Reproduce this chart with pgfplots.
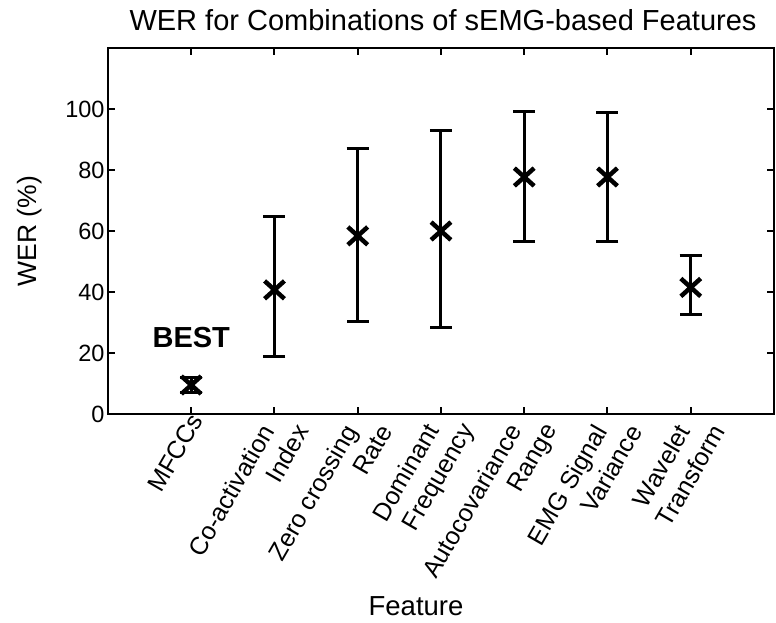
\documentclass[border=0pt]{standalone}
\usepackage{pgfplots}
\pgfplotsset{compat=1.18}
\usepackage{fontspec}
\setmainfont{Liberation Sans}
\newcommand{\gap}{\rule{18pt}{0pt}}
\begin{document}
\begin{tikzpicture}
\begin{axis}[
  at={(0,0)}, anchor=south west,
  scale only axis, width=666pt, height=366pt,
  xmin=-1, xmax=7, ymin=0, ymax=120,
  ytick={0,20,40,60,80,100},
  xtick={0,1,2,3,4,5,6},
  xticklabels={{\raisebox{10pt}[\height][\depth]{MFCCs}\rule{2pt}{0pt}}, Co-activation\gap\\Index, Zero crossing\gap\\Rate, Dominant\gap\\Frequency, Autocovariance\gap\\Range, EMG Signal\gap\\Variance, Wavelet\gap\\Transform},
  xticklabel style={xshift=15pt, yshift=-5pt, rotate=60, anchor=east, align=right, font=\fontsize{25}{30}\selectfont, inner sep=0pt},
  yticklabel style={font=\fontsize{23.5}{26}\selectfont},
  /pgf/number format/assume math mode=true,
  axis line style={line width=2pt},
  tick style={line width=2pt, black},
  major tick length=7pt,
  tick align=inside,
  title={WER for Combinations of sEMG-based Features},
  title style={font=\fontsize{29}{32}\selectfont, at={(axis description cs:0.503,1.06)}, anchor=center},
  ylabel={WER (\%)}, ylabel style={font=\fontsize{26.5}{28}\selectfont, at={(axis description cs:-0.117,0.5)}, anchor=center},
  xlabel={Feature}, xlabel style={font=\fontsize{27.5}{30}\selectfont, at={(axis description cs:0.4625,-0.525)}, anchor=center},
]
\addplot[only marks, mark=x, mark size=14pt, mark options={line width=4.5pt, yscale=0.9},
  error bars/.cd, y dir=both, y explicit,
  error bar style={line width=3pt},
  error mark options={rotate=90, mark size=11pt, line width=3pt}]
  table[x=x, y=y, y error plus=ep, y error minus=em] {
x y ep em
0 9.5 2.5 2.5
1 40.7 23.9 22.0
2 58.4 28.8 28.2
3 60.0 32.8 31.5
4 77.7 21.6 21.3
5 77.7 21.0 21.3
6 41.5 10.4 9.0
};
\node[font=\bfseries\fontsize{29}{31}\selectfont] at (axis cs:0,25) {BEST};
\end{axis}
\pgfresetboundingbox
\path (-108pt,-208pt) rectangle (668pt,414pt);
\end{tikzpicture}
\end{document}
